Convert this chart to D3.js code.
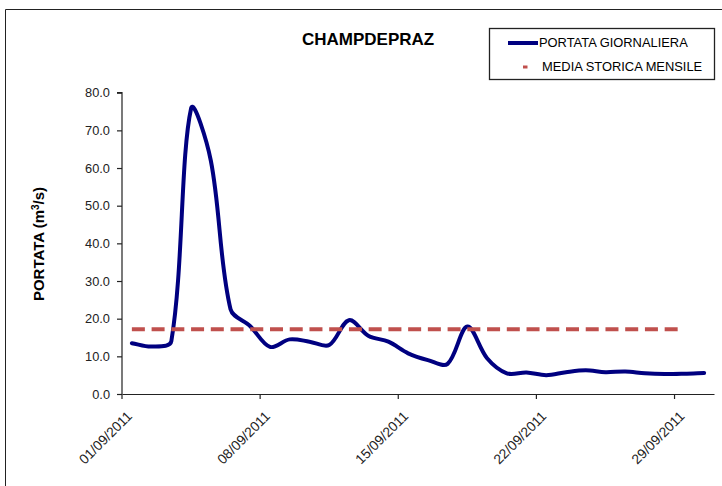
<!DOCTYPE html>
<html>
<head>
<meta charset="utf-8">
<script src="https://cdn.jsdelivr.net/npm/d3@7"></script>
<style>
  html, body { margin: 0; padding: 0; background: #fff; }
  svg { display: block; font-family: "Liberation Sans", Arial, sans-serif; }
</style>
</head>
<body>
<svg id="chart" width="722" height="486"></svg>
<script>
// ---- data ----
const title = "CHAMPDEPRAZ";
const days = ["01/09/2011","02/09/2011","03/09/2011","04/09/2011","05/09/2011","06/09/2011","07/09/2011","08/09/2011","09/09/2011","10/09/2011",
              "11/09/2011","12/09/2011","13/09/2011","14/09/2011","15/09/2011","16/09/2011","17/09/2011","18/09/2011","19/09/2011","20/09/2011",
              "21/09/2011","22/09/2011","23/09/2011","24/09/2011","25/09/2011","26/09/2011","27/09/2011","28/09/2011","29/09/2011","30/09/2011"];
const dailyFlow = [13.5, 12.6, 14.0, 75.8, 62.0, 22.5, 18.0, 12.5, 14.5, 13.9,
                   13.0, 19.6, 15.4, 13.9, 10.8, 9.0, 8.0, 17.9, 9.5, 5.5,
                   5.7, 5.0, 5.8, 6.3, 5.8, 6.0, 5.5, 5.3, 5.4, 5.6];
const historicMean = 17.2;
const meanDays = days.slice(0, 29);
const meanValues = meanDays.map(() => historicMean);
const yTicks = [0, 10, 20, 30, 40, 50, 60, 70, 80];
const xTickLabels = ["01/09/2011","08/09/2011","15/09/2011","22/09/2011","29/09/2011"];
const seriesNames = ["PORTATA GIORNALIERA", "MEDIA STORICA MENSILE"];

// spreadsheet-style smoothing curve for d3.line (chord-weighted Bezier)
function smoothCurve(context) {
  return {
    areaStart() {}, areaEnd() {},
    lineStart() { this._p = []; },
    point(px, py) { this._p.push([+px, +py]); },
    lineEnd() {
      const p = this._p, n = p.length;
      if (!n) return;
      context.moveTo(p[0][0], p[0][1]);
      const dist = (a, b) => Math.hypot(b[0] - a[0], b[1] - a[1]);
      for (let i = 0; i < n - 1; i++) {
        const p0 = p[i - 1] || p[i], p1 = p[i], p2 = p[i + 1], p3 = p[i + 2] || p[i + 1];
        const d01 = dist(p0, p1), d12 = dist(p1, p2), d23 = dist(p2, p3);
        const t1 = [p2[0] - p0[0], p2[1] - p0[1]], t2 = [p3[0] - p1[0], p3[1] - p1[1]];
        const f1 = (d01 + d12) ? d12 / (d01 + d12) / 3 : 0;
        const f2 = (d12 + d23) ? d12 / (d12 + d23) / 3 : 0;
        context.bezierCurveTo(p1[0] + t1[0] * f1, p1[1] + t1[1] * f1,
                              p2[0] - t2[0] * f2, p2[1] - t2[1] * f2, p2[0], p2[1]);
      }
    }
  };
}

// ---- layout ----
const svg = d3.select("#chart");
const x = d3.scaleBand().domain(days).range([122, 714]).paddingInner(0).paddingOuter(0);
const y = d3.scaleLinear().domain([0, 80]).range([394, 92.7]);
const cx = d => x(d) + x.bandwidth() / 2;

// outer chart border
svg.append("path").attr("d", "M5.5,486 V9.5 H722").attr("fill", "none").attr("stroke", "#222").attr("stroke-width", 1);

// title
svg.append("text").attr("x", 302).attr("y", 45).attr("font-size", 17).attr("font-weight", "bold")
  .attr("fill", "#000").text(title);

// y axis
const yAxis = svg.append("g").attr("transform", "translate(122,0)")
  .call(d3.axisLeft(y).tickValues(yTicks).tickSize(5).tickPadding(7).tickFormat(d3.format(".1f")));
yAxis.selectAll("text").attr("font-size", 12.8).attr("font-family", "Liberation Sans, Arial, sans-serif").attr("fill", "#222");
yAxis.selectAll("line, path").attr("stroke", "#222").attr("stroke-width", 1.2);
yAxis.select(".domain").attr("d", `M-5,${y(80)}H0V${y(0)}`);

// x axis
const xAxis = svg.append("g").attr("transform", "translate(0,394)")
  .call(d3.axisBottom(x).tickValues(xTickLabels).tickSize(0).tickSizeOuter(0).tickFormat(""));
xAxis.select(".domain").attr("stroke", "#222").attr("stroke-width", 1.2);
xAxis.selectAll(".tick").remove();
svg.append("g").selectAll("line").data(xTickLabels).join("line")
  .attr("x1", d => x(d)).attr("x2", d => x(d)).attr("y1", 394).attr("y2", 399)
  .attr("stroke", "#222").attr("stroke-width", 1.2);
svg.append("g").selectAll("text").data(xTickLabels).join("text")
  .attr("transform", d => `translate(${cx(d) + 1},417) rotate(-45)`)
  .attr("text-anchor", "end").attr("font-size", 13.8).attr("fill", "#222").text(d => d);

// y label
svg.append("text").attr("transform", "translate(44,244) rotate(-90)").attr("text-anchor", "middle")
  .attr("font-size", 15).attr("font-weight", "bold").attr("fill", "#000")
  .call(t => {
    t.append("tspan").text("PORTATA (m");
    t.append("tspan").attr("baseline-shift", "super").attr("font-size", 10).text("3");
    t.append("tspan").text("/s)");
  });

// daily flow (smoothed)
const flowLine = d3.line().x((d, i) => cx(days[i])).y(d => y(d)).curve(smoothCurve);
svg.append("path").datum(dailyFlow).attr("d", flowLine)
  .attr("fill", "none").attr("stroke", "#000080").attr("stroke-width", 4)
  .attr("stroke-linejoin", "round").attr("stroke-linecap", "round");

// mean line (dashed, drawn on top)
const meanLine = d3.line().x((d, i) => cx(meanDays[i])).y(d => y(d));
svg.append("path").datum(meanValues).attr("d", meanLine)
  .attr("fill", "none").attr("stroke", "#c0504d").attr("stroke-width", 4)
  .attr("stroke-dasharray", `13 ${x.bandwidth() - 13}`);

// legend
const lg = svg.append("g");
lg.append("rect").attr("x", 489.5).attr("y", 28.5).attr("width", 225).attr("height", 51)
  .attr("fill", "#fff").attr("stroke", "#222").attr("stroke-width", 1.3);
lg.append("line").attr("x1", 508).attr("x2", 538).attr("y1", 43).attr("y2", 43)
  .attr("stroke", "#000080").attr("stroke-width", 4);
lg.append("text").attr("x", 539).attr("y", 47).attr("font-size", 12.9).attr("fill", "#000").text(seriesNames[0]);
lg.append("line").attr("x1", 523).attr("x2", 527.5).attr("y1", 67).attr("y2", 67)
  .attr("stroke", "#c0504d").attr("stroke-width", 3);
lg.append("text").attr("x", 542).attr("y", 71).attr("font-size", 12.9).attr("fill", "#000").text(seriesNames[1]);
</script>
</body>
</html>
